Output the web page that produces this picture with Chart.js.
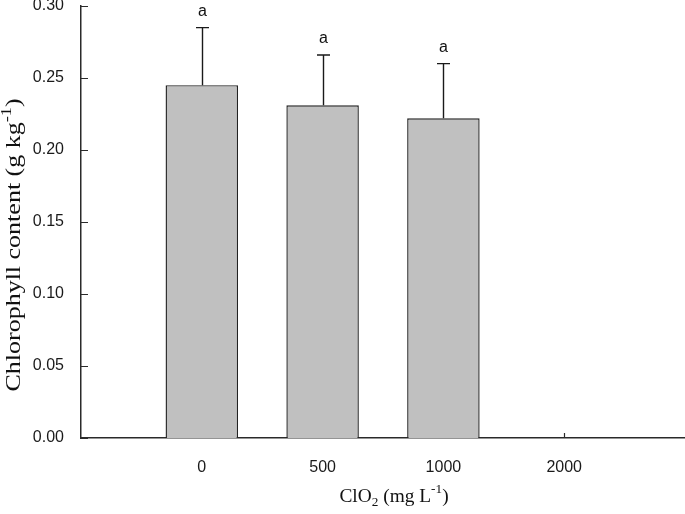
<!DOCTYPE html>
<html>
<head>
<meta charset="utf-8">
<script src="https://cdn.jsdelivr.net/npm/chart.js@4"></script>
<style>
  html, body { margin: 0; padding: 0; background: #fff; }
  #wrap { width: 685px; height: 514px; }
</style>
</head>
<body>
<div id="wrap"><canvas id="chlChart"></canvas></div>
<script>
// ClO2 dose groups and chlorophyll content (g/kg)
const doses = ['0', '500', '1000', '2000'];
const chlorophyll = [0.245, 0.231, 0.222, null];
const errUpper = [0.040, 0.035, 0.038, null];
const letters = ['a', 'a', 'a', ''];
const yTicks = [0, 0.05, 0.10, 0.15, 0.20, 0.25, 0.30];

// one empty slot either side so the axis runs wider than the groups
const labels = ['', ...doses, ''];
const values = [null, ...chlorophyll, null];
const errors = [null, ...errUpper, null];
const marks = ['', ...letters, ''];

const axisColor = '#2a2a2a';

// short tick marks pointing into the plot
const innerTicks = {
  id: 'innerTicks',
  beforeDatasetsDraw(chart) {
    const ctx = chart.ctx;
    const x = chart.scales.x, y = chart.scales.y;
    ctx.save();
    ctx.strokeStyle = axisColor;
    ctx.lineWidth = 1.2;
    ctx.beginPath();
    y.ticks.forEach((t, i) => {
      const py = Math.round(y.getPixelForTick(i)) + 0.5;
      ctx.moveTo(x.left, py);
      ctx.lineTo(x.left + 7, py);
    });
    for (let i = 1; i <= doses.length; i++) {
      const px = Math.round(x.getPixelForTick(i)) + 0.5;
      ctx.moveTo(px, y.bottom);
      ctx.lineTo(px, y.bottom - 5);
    }
    ctx.stroke();
    ctx.restore();
  }
};

// upper error bars and significance letters
const errorBars = {
  id: 'errorBars',
  afterDatasetsDraw(chart) {
    const ctx = chart.ctx;
    const x = chart.scales.x, y = chart.scales.y;
    ctx.save();
    ctx.strokeStyle = '#1a1a1a';
    ctx.lineWidth = 1.4;
    ctx.fillStyle = '#111';
    ctx.font = '16px "Liberation Sans", Arial, sans-serif';
    ctx.textAlign = 'center';
    ctx.textBaseline = 'middle';
    values.forEach((v, i) => {
      if (v == null) return;
      const px = Math.round(x.getPixelForValue(i)) + 0.5;
      const top = y.getPixelForValue(v);
      const cap = y.getPixelForValue(v + errors[i]);
      ctx.beginPath();
      ctx.moveTo(px, top);
      ctx.lineTo(px, cap);
      ctx.moveTo(px - 6.5, cap);
      ctx.lineTo(px + 6.5, cap);
      ctx.stroke();
      ctx.fillText(marks[i], px, cap - 16);
    });
    ctx.restore();
  }
};

// text with sub/superscripts, centred on 0,0; stretch widens it along the line
function drawRich(ctx, parts, size, stretch) {
  const base = size + 'px "Liberation Serif", "Times New Roman", serif';
  const small = Math.round(size * 0.68) + 'px "Liberation Serif", "Times New Roman", serif';
  let total = 0;
  parts.forEach(p => {
    ctx.font = p.sub || p.sup ? small : base;
    p.w = ctx.measureText(p.t).width;
    total += p.w;
  });
  ctx.scale(stretch, 1);
  let cx = -total / 2;
  parts.forEach(p => {
    ctx.font = p.sub || p.sup ? small : base;
    let dy = 0;
    if (p.sub) dy = size * 0.3;
    if (p.sup) dy = -size * 0.38;
    ctx.fillText(p.t, cx, dy);
    cx += p.w;
  });
}

// axis titles with sub- and superscripts
const axisTitles = {
  id: 'axisTitles',
  afterDraw(chart) {
    const ctx = chart.ctx;
    ctx.save();
    ctx.fillStyle = '#111';
    ctx.textAlign = 'left';
    ctx.textBaseline = 'middle';
    ctx.translate(394, 497);
    drawRich(ctx, [
      { t: 'ClO' }, { t: '2', sub: true }, { t: ' (mg L' }, { t: '-1', sup: true }, { t: ')' }
    ], 19, 1.02);
    ctx.restore();

    ctx.save();
    ctx.fillStyle = '#111';
    ctx.textAlign = 'left';
    ctx.textBaseline = 'middle';
    ctx.translate(15, 245);
    ctx.rotate(-Math.PI / 2);
    drawRich(ctx, [
      { t: 'Chlorophyll content (g kg' }, { t: '-1', sup: true }, { t: ')' }
    ], 20, 1.3);
    ctx.restore();
  }
};

new Chart(document.getElementById('chlChart'), {
  type: 'bar',
  data: {
    labels: labels,
    datasets: [{
      data: values,
      backgroundColor: '#c0c0c0',
      borderColor: '#222',
      borderWidth: 1.4,
      categoryPercentage: 1,
      barPercentage: 0.6
    }]
  },
  options: {
    responsive: true,
    maintainAspectRatio: false,
    animation: false,
    layout: { padding: 0 },
    plugins: {
      legend: { display: false },
      tooltip: { enabled: false }
    },
    scales: {
      x: {
        offset: false,
        grid: { display: false },
        border: { display: true, color: axisColor, width: 1.5 },
        ticks: {
          color: '#1a1a1a',
          padding: 12,
          maxRotation: 0,
          autoSkip: false,
          font: { family: '"Liberation Sans", Arial, sans-serif', size: 16 }
        },
        afterFit(scale) {
          scale.height = 76;
          scale.paddingLeft = 0;
          scale.paddingRight = 0;
        }
      },
      y: {
        min: 0,
        max: 0.30,
        grid: { display: false },
        border: { display: true, color: axisColor, width: 1.5 },
        afterBuildTicks(scale) { scale.ticks = yTicks.map(v => ({ value: v })); },
        ticks: {
          color: '#1a1a1a',
          padding: 9,
          callback: v => v.toFixed(2),
          font: { family: '"Liberation Sans", Arial, sans-serif', size: 16 }
        },
        afterFit(scale) {
          scale.width = 81;
          scale.paddingTop = 6;
        }
      }
    }
  },
  plugins: [innerTicks, errorBars, axisTitles]
});
</script>
</body>
</html>
